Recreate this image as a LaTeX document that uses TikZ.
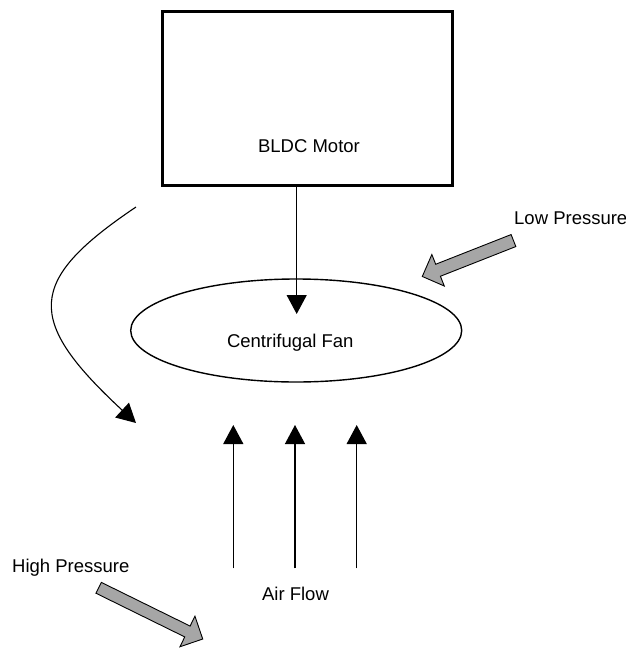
\documentclass[tikz,border=0pt]{standalone}
\usepackage{fontspec}
\setmainfont{Liberation Sans}
\usetikzlibrary{arrows.meta, positioning, shapes.geometric, shapes.arrows}
\definecolor{pressureGray}{RGB}{166,166,166}
\tikzset{
  caption/.style = {
    inner sep=0pt,
    anchor=base,
    font=\fontsize{18.5}{22}\selectfont,
  },
  goes/.style = {
    -{Triangle[length=19pt, width=20pt]},
    line width=1.3pt,
  },
  pressure/.style = {
    draw,
    fill=pressureGray,
    single arrow,
    inner xsep=0pt,
    line width=0.9pt,
    anchor=tip,
  },
}

\begin{document}
\begin{tikzpicture}[
  x=1pt, y=-1pt,
  motorbox/.style = {
    draw,
    rectangle,
    line width=3pt,
    minimum width=289.3pt,
    minimum height=174.7pt,
  },
  fanshape/.style = {
    draw,
    ellipse,
    inner sep=0pt,
    line width=1.4pt,
    minimum width=331pt,
    minimum height=103pt,
  },
]
\useasboundingbox (0,0) rectangle (626,648);

% motor and fan
\node(motor)[motorbox] at (307.4,98.4) {};
\node(motorName)[caption] at (309,152) {BLDC Motor};
\node(fan)[fanshape] at (296.2,330.5) {};
\node(fanName)[caption] at (290.3,347.3) {Centrifugal Fan};

\coordinate(hub) at (296.7,314);
\draw[goes] (hub |- motor.south) -- (hub);

% air drawn in from below
\foreach \x [count=\i] in {233.3, 295, 356.7}{
  \coordinate(flowIn\i) at (\x,568.3);
  \coordinate(flowOut\i) at (\x,425);
  \draw[goes] (flowIn\i) -- (flowOut\i);
};
\node(airName)[caption] at (295.5,600) {Air Flow};

% air thrown back round the side
\coordinate(swirlStart) at (136,207);
\coordinate(swirlEnd) at (136,423);
\draw[goes, line width=1.1pt]
  (swirlStart) .. controls (26,281) and (25,320) .. (swirlEnd);

% pressure sides
\node(lowArrow)[pressure,
  minimum height=98pt, minimum width=33pt,
  inner ysep=6pt, single arrow head extend=10.5pt,
  rotate=201.5] at (421.7,276.7) {};
\node(lowName)[caption, anchor=base west] at (514,224) {Low Pressure};

\node(highArrow)[pressure,
  minimum height=116pt, minimum width=33.5pt,
  inner ysep=5.6pt, single arrow head extend=11pt,
  rotate=-26.2] at (203.3,639.3) {};
\node(highName)[caption, anchor=base west] at (12,572.7) {High Pressure};

\end{tikzpicture}
\end{document}
